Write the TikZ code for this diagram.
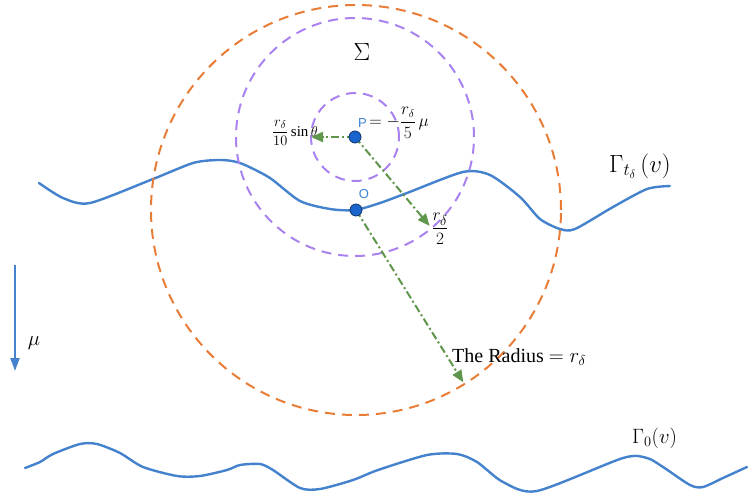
\documentclass[tikz,border=0pt]{standalone}
\usepackage{amsmath}
\usepackage{fontspec}
\setmainfont{Liberation Serif}
\newfontfamily\lblsans{Liberation Sans}
\usetikzlibrary{arrows.meta,calc}
\definecolor{wave}{RGB}{68,130,205}
\definecolor{orng}{RGB}{232,125,55}
\definecolor{purp}{RGB}{170,130,240}
\definecolor{grn}{RGB}{95,150,75}
\definecolor{dotblue}{RGB}{25,100,205}
\definecolor{dotedge}{RGB}{20,50,110}
\definecolor{lblblue}{RGB}{60,130,210}
\begin{document}
\begin{tikzpicture}[x=1pt,y=-1pt,
  wavestyle/.style={draw=wave,line width=2.4pt,line cap=round,line join=round},
  bigring/.style={draw=orng,line width=2pt,dash pattern=on 10pt off 7pt},
  ring/.style={draw=purp,line width=2pt,dash pattern=on 10pt off 7pt},
  radarrow/.style={draw=grn,line width=2pt,dash pattern=on 8pt off 3pt on 2pt off 3pt,
    -{Triangle[length=12pt,width=10pt,fill=grn]}},
  muarrow/.style={draw=wave,line width=2.2pt,-{Triangle[length=13pt,width=9pt,fill=wave]}},
  dot/.style={circle,fill=dotblue,draw=dotedge,line width=0.8pt,minimum size=12pt,inner sep=0pt},
  lbl/.style={inner sep=0pt,text=black},
  bluelbl/.style={inner sep=0pt,text=lblblue,font=\lblsans\fontsize{13}{13}\selectfont}]
\useasboundingbox (0,0) rectangle (748,499);

% waves
\draw[wavestyle] plot[smooth,tension=0.45] coordinates {
  (39,183) (63,198) (90,203) (153,179) (193,163) (217,160) (232,161)
  (245,165) (270,178) (300,201) (330,209) (355,210) (380,203) (407,193)
  (463,172) (490,175) (520,197) (540,219) (560,229) (575,229) (613,207)
  (647,189) (670,186)};
\draw[wavestyle] plot[smooth,tension=0.45] coordinates {
  (25,468) (40,462) (53,454) (80,444) (97,444) (120,453) (143,467) (177,476)
  (200,476) (227,470) (240,465) (260,464) (273,470) (300,488) (320,489)
  (353,480) (378,470) (427,455) (457,454) (477,462) (503,482) (537,491)
  (623,458) (647,458) (663,467) (690,485) (703,487) (723,478) (747,467)};

% points
\coordinate (Pc) at (355,137);
\coordinate (Oc) at (356,210);

% circles
\draw[bigring] (Oc) circle (205pt);
\draw[ring] (Pc) circle (119pt);
\draw[ring] (Pc) circle (44pt);

% arrow endpoints
\coordinate (Aend) at ($(Pc)+(180:44)$);
\coordinate (Bend) at ($(Pc)+(50:116)$);
\coordinate (Cend) at ($(Oc)+(58.1:203)$);

\draw[radarrow] (Pc) -- (Aend);
\draw[radarrow] (Pc) -- (Bend);
\draw[radarrow] (Oc) -- (Cend);

\node[dot] (P) at (Pc) {};
\node[dot] (O) at (Oc) {};

% mu arrow
\coordinate (MuS) at (15,265);
\coordinate (MuE) at (15,371);
\draw[muarrow] (MuS) -- (MuE);
\node[lbl,font=\fontsize{20}{20}\selectfont] (mulbl) at (34,343) {$\mu$};

% labels
\node[lbl,font=\fontsize{28}{28}\selectfont] (sigma) at (362,52) {$\Sigma$};
\node[bluelbl,anchor=base west] (Plbl) at (358,127) {P};
\node[lbl,anchor=west,font=\fontsize{16}{16}\selectfont] (Peq) at ([xshift=2pt]Plbl.east) {$=-\dfrac{r_\delta}{5}\,\mu$};
\node[bluelbl] (Olbl) at (364,194) {O};
\node[lbl,anchor=east,font=\fontsize{15}{15}\selectfont] (sinlbl) at (318,133) {$\dfrac{r_\delta}{10}\sin\theta$};
\node[lbl,font=\fontsize{19}{19}\selectfont] (halflbl) at (440,229) {$\dfrac{r_\delta}{2}$};
\node[lbl,anchor=base west,font=\fontsize{20}{20}\selectfont] (radlbl) at (452,362) {The Radius $= r_\delta$};
\node[lbl,anchor=base west,font=\fontsize{24}{24}\selectfont] (g1lbl) at (609,172) {$\Gamma_{t_\delta}\,(v)$};
\node[lbl,anchor=base west,font=\fontsize{22}{22}\selectfont] (g0lbl) at (632,443) {$\Gamma_{0}(v)$};
\end{tikzpicture}
\end{document}
